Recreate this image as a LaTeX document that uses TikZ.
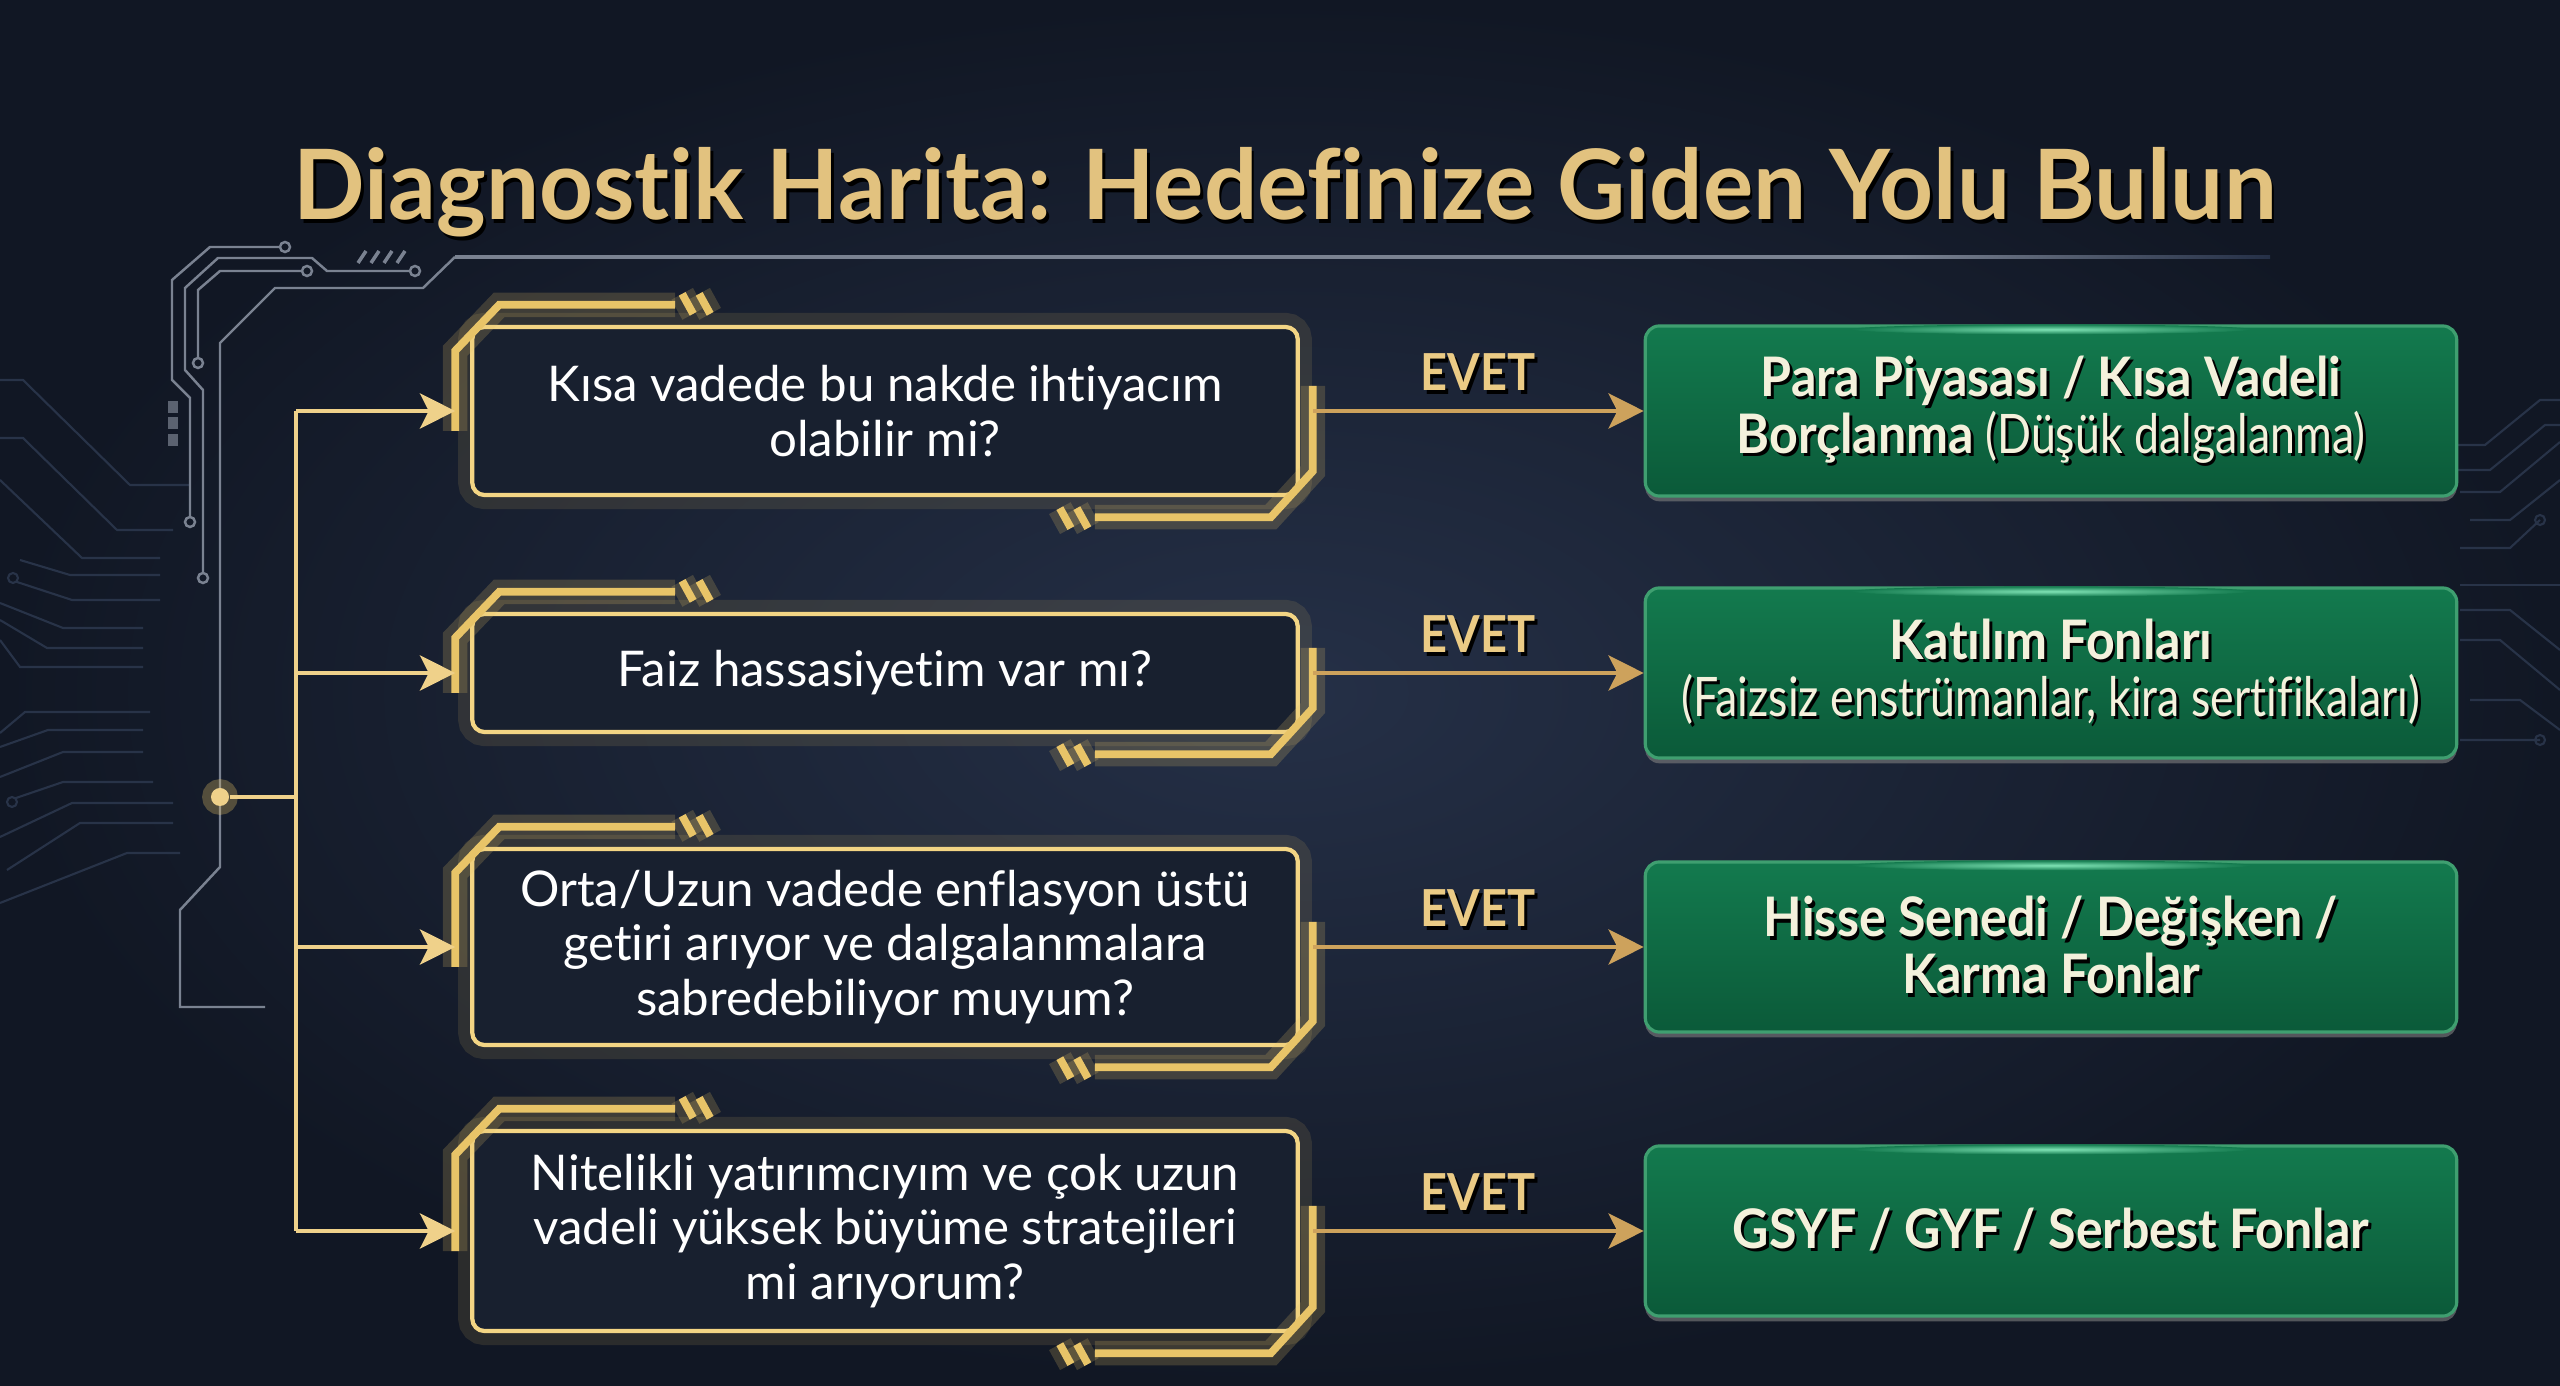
\documentclass[tikz,border=0pt]{standalone}
\usepackage{fontspec}
\setmainfont[Ligatures=NoCommon]{Lato}
\newfontfamily\condfont[FakeStretch=0.82, Ligatures=NoCommon]{Lato}
\newfontfamily\condbold[FakeStretch=0.92, Ligatures=NoCommon]{Lato}
\newfontfamily\titlefont[FakeStretch=0.97, Ligatures=NoCommon]{Lato}
\usetikzlibrary{arrows.meta,shadows}

\definecolor{bgin}{HTML}{253047}
\definecolor{bgout}{HTML}{111724}
\definecolor{qfill}{HTML}{18202F}
\definecolor{goldA}{HTML}{E8C468}
\definecolor{goldB}{HTML}{F3D584}
\definecolor{goldL}{HTML}{EFD18A}
\definecolor{bronze}{HTML}{CDA25C}
\definecolor{goldT}{HTML}{EBCB85}
\definecolor{titlec}{HTML}{E2C27F}
\definecolor{lineg}{HTML}{7A8291}
\definecolor{faintc}{HTML}{283348}
\definecolor{greenT}{HTML}{137A4E}
\definecolor{greenB}{HTML}{0B5A39}
\definecolor{greenE}{HTML}{3F9F70}
\definecolor{glowg}{HTML}{7FE3B5}
\definecolor{cream}{HTML}{F4F1DC}

\newcommand{\qfont}{\fontsize{14}{15.4}\selectfont}
\newcommand{\rfont}{\condfont\fontsize{15.5}{16.2}\selectfont}
\newcommand{\evfont}{\condbold\bfseries\fontsize{14.5}{16}\selectfont}
\newcommand{\ttlfont}{\titlefont\bfseries\fontsize{27.6}{30}\selectfont}
\newcommand{\rb}[1]{{\condbold\bfseries #1}}
% text with a dark drop shadow
\newcommand{\shd}[2][black]{\leavevmode\rlap{\kern0.8pt\raisebox{-0.9pt}{\textcolor{#1}{#2}}}#2}
% gold outer frame round a question box
\newcommand{\drawframe}[1]{%
  \draw[qframe] ([shift={(-15,20)}]#1.west) -- ([shift={(-15,26)}]#1.north west) -- ([shift={(29,-20)}]#1.north west) -- ([shift={(205,-20)}]#1.north west);
  \draw[qframe] ([shift={(212,-31)}]#1.north west) -- ([shift={(223,-11)}]#1.north west);
  \draw[qframe] ([shift={(229,-31)}]#1.north west) -- ([shift={(240,-11)}]#1.north west);
  \draw[qframe] ([shift={(13,-25)}]#1.east) -- ([shift={(13,-26)}]#1.south east) -- ([shift={(-29,20)}]#1.south east) -- ([shift={(-205,20)}]#1.south east);
  \draw[qframe] ([shift={(-240,11)}]#1.south east) -- ([shift={(-229,31)}]#1.south east);
  \draw[qframe] ([shift={(-223,11)}]#1.south east) -- ([shift={(-212,31)}]#1.south east);
}

\begin{document}
\begin{tikzpicture}[x=0.01cm, y=-0.01cm]
        \tikzset{qbox/.style = {shape=rectangle, draw=goldB, line width=1.2pt, rounded corners=3.5pt, fill=qfill, text=white, align=center, inner sep=0pt, minimum width=8.25cm, font=\qfont, preaction={draw=goldA, line width=8pt, opacity=0.12}}}
        \tikzset{resbox/.style = {shape=rectangle, draw=greenE, line width=0.9pt, rounded corners=4pt, top color=greenT, bottom color=greenB, align=center, inner sep=0pt, minimum width=8.11cm, minimum height=1.7cm, text=cream, font=\rfont, drop shadow={shadow xshift=0pt, shadow yshift=-1.5pt, opacity=0.6}}}
        \tikzset{qframe/.style = {draw=goldA, line width=2.2pt, preaction={draw=goldA, line width=7pt, opacity=0.2}}}
        \tikzset{branch/.style = {draw=goldL, line width=1.2pt}}
        \tikzset{branchar/.style = {branch, -{Stealth[length=10pt, width=10pt, inset=2.5pt]}}}
        \tikzset{yesarrow/.style = {draw=bronze, line width=1.2pt, -{Stealth[length=10pt, width=10pt, inset=2.5pt]}}}
        \tikzset{evet/.style = {text=goldT, font=\evfont, anchor=base, yshift=5.7pt}}
        \tikzset{hubdot/.style = {shape=circle, fill=goldL, inner sep=0pt, minimum size=0.18cm, preaction={draw=goldA, line width=5pt, opacity=0.3}}}
        \tikzset{circ/.style = {draw=lineg, line width=0.7pt}}
        \tikzset{faint/.style = {draw=faintc, line width=0.6pt}}

        % background
        \useasboundingbox (0,0) rectangle (2560,1386);
        \shade[inner color=bgin, outer color=bgout] (0,0) rectangle (2560,1386);

        % faint circuit lines at the edges
        \draw[faint] (0,380) -- (23,380) -- (130,485) -- (190,485);
        \draw[faint] (0,438) -- (23,438) -- (117,530) -- (173,530);
        \draw[faint] (0,480) -- (82,558) -- (160,558);
        \draw[faint] (20,560) -- (70,575) -- (160,575);
        \draw[faint] (13,578) circle (5) (17,582) -- (72,600) -- (160,600);
        \draw[faint] (0,603) -- (63,628) -- (143,628);
        \draw[faint] (0,620) -- (47,648) -- (143,648);
        \draw[faint] (0,640) -- (20,667) -- (143,667);
        \draw[faint] (0,733) -- (25,712) -- (150,712);
        \draw[faint] (0,747) -- (48,730) -- (143,730);
        \draw[faint] (0,777) -- (63,752) -- (143,752);
        \draw[faint] (12,802) circle (5) (16,798) -- (63,782) -- (153,782);
        \draw[faint] (0,837) -- (72,803) -- (173,803);
        \draw[faint] (7,870) -- (80,823) -- (173,823);
        \draw[faint] (0,903) -- (127,853) -- (180,853);
        \draw[faint] (2450,445) -- (2485,445) -- (2540,400) -- (2560,400);
        \draw[faint] (2450,470) -- (2490,470) -- (2545,425) -- (2560,425);
        \draw[faint] (2460,492) -- (2500,492) -- (2560,442);
        \draw[faint] (2470,520) -- (2510,520) -- (2560,480);
        \draw[faint] (2460,548) -- (2510,548) -- (2540,520) circle (5);
        \draw[faint] (2460,585) -- (2560,585);
        \draw[faint] (2460,610) -- (2510,610) -- (2560,650);
        \draw[faint] (2460,640) -- (2500,640) -- (2560,690);
        \draw[faint] (2470,700) -- (2520,700) -- (2560,730);
        \draw[faint] (2460,740) -- (2540,740) circle (5);

        % circuit lines round the title
        \draw[circ] (455,257) -- (423,288) -- (275,288) -- (220,343) -- (220,867) -- (180,910) -- (180,1007) -- (265,1007);
        \draw[circ, line width=1pt] (455,257) -- (1900,257);
        \shade[left color=lineg, right color=bgin] (1900,255.5) rectangle (2270,258.5);
        \draw[circ] (285,247) circle (5) (280,247) -- (210,247) -- (172,280) -- (172,380) -- (190,398) -- (190,517) (190,522) circle (5);
        \draw[circ] (415,271) circle (5) (410,271) -- (327,271) -- (312,258) -- (218,258) -- (185,288) -- (185,370) -- (203,390) -- (203,573) (203,578) circle (5);
        \draw[circ] (307,271) circle (5) (302,271) -- (220,271) -- (198,290) -- (198,358) (198,363) circle (5);
        \foreach \x in {358,371,384,397}
          \draw[circ, line width=1pt] (\x,263) -- (\x+8,251);
        \foreach \y in {407,423,440}
          \fill[lineg!70!bgout] (168,\y-6) rectangle (178,\y+6);

        % title
        \node[text=titlec, font=\ttlfont, anchor=base] (title) at (1285,220) {\shd{Diagnostik Harita: Hedefinize Giden Yolu Bulun}};

        % questions
        \node[qbox, minimum height=1.68cm] (q1) at (885,411) {Kısa vadede bu nakde ihtiyacım\\olabilir mi?};
        \node[qbox, minimum height=1.18cm] (q2) at (885,673) {Faiz hassasiyetim var mı?};
        \node[qbox, minimum height=1.96cm] (q3) at (885,947) {Orta/Uzun vadede enflasyon üstü\\getiri arıyor ve dalgalanmalara\\sabredebiliyor muyum?};
        \node[qbox, minimum height=2.00cm] (q4) at (885,1231) {Nitelikli yatırımcıyım ve çok uzun\\vadeli yüksek büyüme stratejileri\\mi arıyorum?};
        \drawframe{q1}
        \drawframe{q2}
        \drawframe{q3}
        \drawframe{q4}

        % results
        \node[resbox] (r1) at (2051,411) {\shd{\rb{Para Piyasası / Kısa Vadeli}}\\\shd{\rb{Borçlanma} (Düşük dalgalanma)}};
        \node[resbox] (r2) at (2051,673) {\shd{\rb{Katılım Fonları}}\\\shd{(Faizsiz enstrümanlar, kira sertifikaları)}};
        \node[resbox] (r3) at (2051,947) {\shd{\rb{Hisse Senedi / Değişken /}}\\\shd{\rb{Karma Fonlar}}};
        \node[resbox] (r4) at (2051,1231) {\shd{\rb{GSYF / GYF / Serbest Fonlar}}};
        \foreach \r in {r1,r2,r3,r4}
          \shade[inner color=glowg, outer color=greenT] ([shift={(0,5)}]\r.north) ellipse [x radius=200, y radius=5];

        % hub and branches
        \node[hubdot] (hub) at (220,797) {};
        \coordinate (trunk) at (296,797);
        \draw[branch] (hub) -- (trunk);
        \draw[branch] (trunk |- q1.west) -- (trunk |- q4.west);
        \foreach \q in {q1,q2,q3,q4}
          \draw[branchar] (trunk |- \q.west) -- ([shift={(-15,0)}]\q.west);

        % yes arrows
        \draw[yesarrow] ([shift={(13,0)}]q1.east) -- (r1.west) node[evet, midway] {\shd{EVET}};
        \draw[yesarrow] ([shift={(13,0)}]q2.east) -- (r2.west) node[evet, midway] {\shd{EVET}};
        \draw[yesarrow] ([shift={(13,0)}]q3.east) -- (r3.west) node[evet, midway] {\shd{EVET}};
        \draw[yesarrow] ([shift={(13,0)}]q4.east) -- (r4.west) node[evet, midway] {\shd{EVET}};
\end{tikzpicture}
\end{document}
